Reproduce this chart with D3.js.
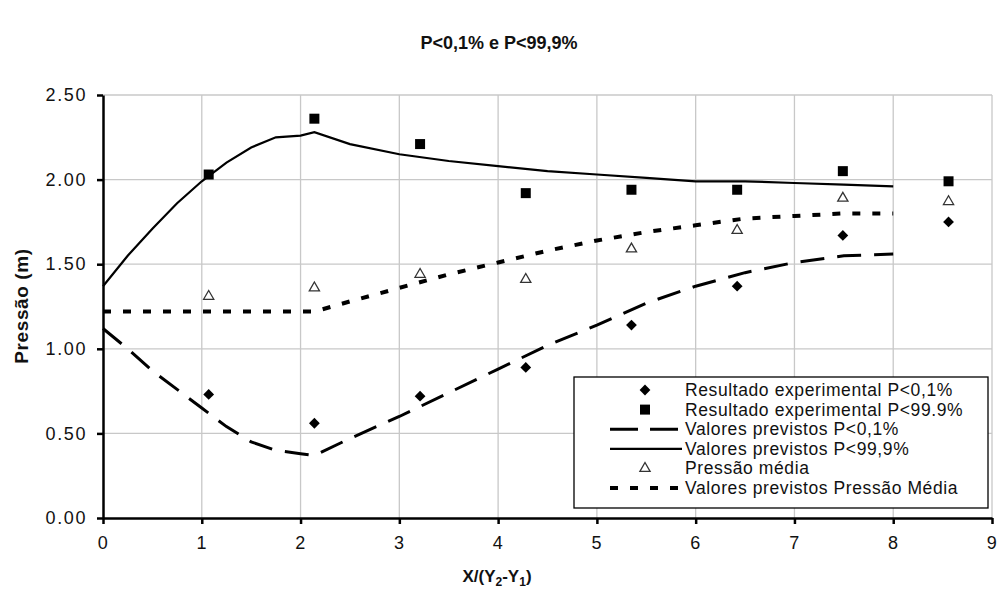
<!DOCTYPE html>
<html lang="pt">
<head>
  <meta charset="UTF-8">
  <title>P&lt;0,1% e P&lt;99,9%</title>
  <script src="https://cdn.jsdelivr.net/npm/d3@7"></script>
  <style>
    body { margin: 0; background: #fff; }
    text { font-family: Arial, "Liberation Sans", sans-serif; fill: #111; }
  </style>
</head>
<body>
<div id="grafica"></div>

<script>
// pontos experimentais
posX     = [1.07, 2.14, 3.21, 4.28, 5.35, 6.42, 7.49, 8.56]
expBaixo = [0.73, 0.56, 0.72, 0.89, 1.14, 1.37, 1.67, 1.75]   // P<0,1%
expAlto  = [2.03, 2.36, 2.21, 1.92, 1.94, 1.94, 2.05, 1.99]   // P<99.9%
media    = [1.31, 1.36, 1.44, 1.41, 1.59, 1.70, 1.89, 1.87]   // Pressão média

// valores previstos
prevX     = [0, 0.25, 0.5, 0.75, 1, 1.25, 1.5, 1.75, 2, 2.14, 2.5, 3, 3.5, 4, 4.5, 5, 5.5, 6, 6.5, 7, 7.5, 8]
prevBaixo = [1.12, 1.00, 0.87, 0.76, 0.65, 0.54, 0.45, 0.40, 0.38, 0.37, 0.47, 0.60, 0.74, 0.88, 1.02, 1.14, 1.27, 1.37, 1.45, 1.51, 1.55, 1.56]
prevAlto  = [1.37, 1.55, 1.71, 1.86, 1.99, 2.10, 2.19, 2.25, 2.26, 2.28, 2.21, 2.15, 2.11, 2.08, 2.05, 2.03, 2.01, 1.99, 1.99, 1.98, 1.97, 1.96]
prevMedia = [1.22, 1.22, 1.22, 1.22, 1.22, 1.22, 1.22, 1.22, 1.22, 1.22, 1.28, 1.36, 1.44, 1.51, 1.58, 1.64, 1.69, 1.73, 1.77, 1.785, 1.80, 1.80]

xTicks = [0, 1, 2, 3, 4, 5, 6, 7, 8, 9]
yTicks = [0, 0.5, 1, 1.5, 2, 2.5]

ancho_total = 998
alto_total  = 599
margin = { left: 103, right: 6, top: 95, bottom: 81 }

ancho = ancho_total - margin.left - margin.right
alto  = alto_total - margin.top - margin.bottom

svg = d3
        .select('#grafica')
        .append('svg')
        .attr('width', ancho_total)
        .attr('height', alto_total)

g = svg
      .append('g')
      .attr('transform', 'translate(' + margin.left + ',' + margin.top + ')')

x = d3
      .scaleLinear()
      .domain([0, 9])
      .range([0, ancho])
y = d3
      .scaleLinear()
      .domain([0, 2.5])
      .range([alto, 0])

// grade
g.append('g')
  .selectAll('line.gy')
  .data(yTicks.slice(1))
  .enter()
  .append('line')
    .attr('x1', 0)
    .attr('x2', ancho)
    .attr('y1', d => y(d))
    .attr('y2', d => y(d))
    .attr('stroke', '#c8c8c8')
    .attr('stroke-width', 1.3)
g.append('g')
  .selectAll('line.gx')
  .data(xTicks.slice(1))
  .enter()
  .append('line')
    .attr('x1', d => x(d))
    .attr('x2', d => x(d))
    .attr('y1', 0)
    .attr('y2', alto)
    .attr('stroke', '#c8c8c8')
    .attr('stroke-width', 1.3)

// linhas previstas
function linha(vals) {
  return d3.line()
           .x((d, i) => x(prevX[i]))
           .y(d => y(d))(vals)
}

g.append('path')
  .attr('d', linha(prevMedia))
  .attr('fill', 'none')
  .attr('stroke', '#000')
  .attr('stroke-width', 4)
  .attr('stroke-dasharray', '8,12')

g.append('path')
  .attr('d', linha(prevBaixo))
  .attr('fill', 'none')
  .attr('stroke', '#000')
  .attr('stroke-width', 3)
  .attr('stroke-dasharray', '24,13')

g.append('path')
  .attr('d', linha(prevAlto))
  .attr('fill', 'none')
  .attr('stroke', '#000')
  .attr('stroke-width', 2.2)

// marcadores
diamante = d3.symbol().type(d3.symbolSquare).size(58)   // girado 45 graus
quadrado = d3.symbol().type(d3.symbolSquare).size(100)
triangulo = d3.symbol().type(d3.symbolTriangle).size(45)

g.selectAll('path.baixo')
  .data(expBaixo)
  .enter()
  .append('path')
    .attr('d', diamante)
    .attr('transform', (d, i) => `translate(${x(posX[i])},${y(d)}) rotate(45)`)
    .attr('fill', '#000')

g.selectAll('path.alto')
  .data(expAlto)
  .enter()
  .append('path')
    .attr('d', quadrado)
    .attr('transform', (d, i) => `translate(${x(posX[i])},${y(d)})`)
    .attr('fill', '#000')

g.selectAll('path.media')
  .data(media)
  .enter()
  .append('path')
    .attr('d', triangulo)
    .attr('transform', (d, i) => `translate(${x(posX[i])},${y(d)})`)
    .attr('fill', '#fff')
    .attr('stroke', '#333')
    .attr('stroke-width', 1.3)

// eixos
xAxis = g
          .append('g')
          .attr('transform', `translate(0, ${alto})`)
          .call(d3.axisBottom(x).tickValues(xTicks).tickFormat(d3.format('d'))
                  .tickSize(6).tickSizeOuter(0).tickPadding(12))
yAxis = g
          .append('g')
          .call(d3.axisLeft(y).tickValues(yTicks).tickFormat(d3.format('.2f'))
                  .tickSize(6).tickSizeOuter(0).tickPadding(10))

g.selectAll('.domain, .tick line')
  .attr('stroke', '#000')
  .attr('stroke-width', 2.5)
g.selectAll('.tick text')
  .style('font-size', '18px')
  .style('letter-spacing', '1.6px')
  .attr('fill', '#111')

// títulos
svg.append('text')
  .attr('x', 499)
  .attr('y', 49)
  .attr('text-anchor', 'middle')
  .style('font-size', '18px')
  .style('font-weight', 'bold')
  .text('P<0,1% e P<99,9%')

svg.append('text')
  .attr('transform', 'translate(28, 306) rotate(-90)')
  .attr('text-anchor', 'middle')
  .style('font-size', '19px')
  .style('font-weight', 'bold')
  .style('letter-spacing', '0.6px')
  .text('Pressão (m)')

tx = svg.append('text')
  .attr('x', 497)
  .attr('y', 582)
  .attr('text-anchor', 'middle')
  .style('font-size', '17px')
  .style('font-weight', 'bold')
tx.append('tspan').text('X/(Y')
tx.append('tspan').attr('dy', 4).style('font-size', '12px').text('2')
tx.append('tspan').attr('dy', -4).text('-Y')
tx.append('tspan').attr('dy', 4).style('font-size', '12px').text('1')
tx.append('tspan').attr('dy', -4).text(')')

// legenda
legX = 574, legY = 377
legenda = svg.append('g')
legenda.append('rect')
  .attr('x', legX)
  .attr('y', legY)
  .attr('width', 414)
  .attr('height', 131)
  .attr('fill', '#fff')
  .attr('stroke', '#000')
  .attr('stroke-width', 1.3)

itens = [
  { nome: 'Resultado experimental P<0,1%', tipo: 'diamante' },
  { nome: 'Resultado experimental P<99.9%', tipo: 'quadrado' },
  { nome: 'Valores previstos P<0,1%', tipo: 'tracejado' },
  { nome: 'Valores previstos P<99,9%', tipo: 'continua' },
  { nome: 'Pressão média', tipo: 'triangulo' },
  { nome: 'Valores previstos Pressão Média', tipo: 'pontilhado' }
]

itens.forEach((it, i) => {
  cy = legY + 13 + i * 19.6
  if (it.tipo == 'diamante') {
    legenda.append('path').attr('d', diamante).attr('transform', `translate(645,${cy}) rotate(45)`).attr('fill', '#000')
  } else if (it.tipo == 'quadrado') {
    legenda.append('path').attr('d', quadrado).attr('transform', `translate(645,${cy})`).attr('fill', '#000')
  } else if (it.tipo == 'triangulo') {
    legenda.append('path').attr('d', triangulo).attr('transform', `translate(645,${cy})`)
      .attr('fill', '#fff').attr('stroke', '#333').attr('stroke-width', 1.3)
  } else {
    l = legenda.append('line')
      .attr('x1', 610).attr('x2', 682).attr('y1', cy).attr('y2', cy)
      .attr('stroke', '#000')
    if (it.tipo == 'tracejado') l.attr('stroke-width', 3).attr('stroke-dasharray', '28,12')
    if (it.tipo == 'continua') l.attr('stroke-width', 2.2)
    if (it.tipo == 'pontilhado') l.attr('stroke-width', 4).attr('stroke-dasharray', '8,12')
  }
  legenda.append('text')
    .attr('x', 685)
    .attr('y', cy + 6)
    .style('font-size', '17.5px')
    .style('letter-spacing', '0.6px')
    .text(it.nome)
})
</script>
</body>
</html>
